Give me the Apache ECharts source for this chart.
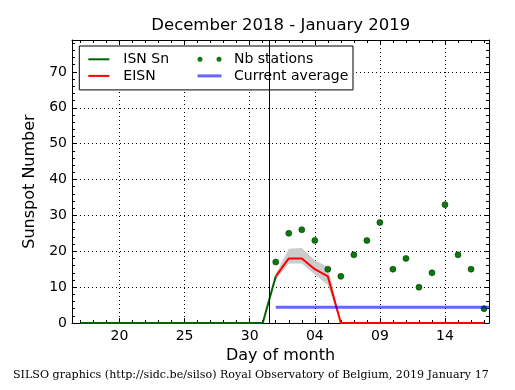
<!DOCTYPE html>
<html><head><meta charset="utf-8">
<script src="https://cdn.jsdelivr.net/npm/echarts@6/dist/echarts.min.js"></script>
<style>html,body{margin:0;padding:0;background:#fff}#c{width:515px;height:390px}</style>
</head><body><div id="c"></div>
<script>
// ---- data (day numbers: Dec d = d, Jan d = 31 + d) ----
const X_MIN = 16.35, X_MAX = 48.38, Y_MAX = 78.9;
const xTickValues = [20, 25, 30, 35, 40, 45];
const xTickLabels = ['20', '25', '30', '04', '09', '14'];
const yTickValues = [0, 10, 20, 30, 40, 50, 60, 70];
const isnDays   = [17, 18, 19, 20, 21, 22, 23, 24, 25, 26, 27, 28, 29, 30, 31, 32];
const isnValues = [0, 0, 0, 0, 0, 0, 0, 0, 0, 0, 0, 0, 0, 0, 0, 13];
const eisnDays   = [32, 33, 34, 35, 36, 37, 38, 39, 40, 41, 42, 43, 44, 45, 46, 47, 48];
const eisnValues = [13, 18, 18, 15, 13, 0, 0, 0, 0, 0, 0, 0, 0, 0, 0, 0, 0];
const bandDays = [32, 33, 34, 35, 36, 37];
const bandLow  = [12.0, 16.6, 16.6, 13.5, 10.6, 0];
const bandHigh = [13.6, 20.7, 20.9, 17.5, 15.7, 0];
const stationDays   = [32, 33, 34, 35, 36, 37, 38, 39, 40, 41, 42, 43, 44, 45, 46, 47, 48];
const stationValues = [17, 25, 26, 23, 15, 13, 19, 23, 28, 15, 18, 10, 14, 33, 19, 15, 4];
const averageDays   = [32, 48.38];
const averageValues = [4.4, 4.4];
const yearBoundary = 31.5;

const FONT = 'DejaVu Sans';
const minorX = []; for (let d = 17; d <= 48; d++) minorX.push(d);
const minorY = []; for (let v = 0; v <= 78; v += 2) minorY.push(v);

const pairs = (xs, ys) => xs.map((x, i) => [x, ys[i]]);

function xAxisDef(pos, ticks, len, major) {
  return {
    type: 'value', min: X_MIN, max: X_MAX, position: pos,
    axisLine: { show: major, onZero: false, lineStyle: { color: '#000', width: 1 } },
    axisTick: { show: true, inside: true, length: len, customValues: ticks, lineStyle: { color: '#000', width: 1 } },
    axisLabel: { show: false },
    splitLine: { show: false },
    axisPointer: { show: false }
  };
}
function yAxisDef(pos, ticks, len, major) {
  return {
    type: 'value', min: 0, max: Y_MAX, interval: 10, position: pos,
    axisLine: { show: major, onZero: false, lineStyle: { color: '#000', width: 1 } },
    axisTick: { show: true, inside: true, length: len, customValues: ticks, lineStyle: { color: '#000', width: 1 } },
    axisLabel: { show: false },
    splitLine: { show: false },
    axisPointer: { show: false }
  };
}

const xAxes = [
  xAxisDef('bottom', xTickValues, 5, true),
  xAxisDef('bottom', minorX, 3, false),
  xAxisDef('top', xTickValues, 5, true),
  xAxisDef('top', minorX, 3, false)
];
Object.assign(xAxes[0], {
  axisLabel: { show: true, customValues: xTickValues, margin: 6, fontFamily: FONT, fontSize: 14, color: '#000',
    formatter: v => { const i = xTickValues.indexOf(Math.round(v)); return i >= 0 ? xTickLabels[i] : ''; } },
  splitLine: { show: true, lineStyle: { color: '#000', width: 1, type: [1, 3] } },
  name: 'Day of month', nameLocation: 'middle', nameGap: 23,
  nameTextStyle: { fontFamily: FONT, fontSize: 16, color: '#000' }
});

const yAxes = [
  yAxisDef('left', yTickValues, 5, true),
  yAxisDef('left', minorY, 3, false),
  yAxisDef('right', yTickValues, 5, true),
  yAxisDef('right', minorY, 3, false)
];
Object.assign(yAxes[0], {
  axisLabel: { show: true, customValues: yTickValues, margin: 5, fontFamily: FONT, fontSize: 14, color: '#000',
    formatter: v => (yTickValues.indexOf(Math.round(v)) >= 0 && Math.abs(v - Math.round(v)) < 1e-6) ? String(Math.round(v)) : '' },
  splitLine: { show: true, lineStyle: { color: '#000', width: 1, type: [1, 3] } },
  name: 'Sunspot Number', nameLocation: 'middle', nameGap: 33,
  nameTextStyle: { fontFamily: FONT, fontSize: 16, color: '#000' }
});

const LINE_ICON = 'path://M0,0H21V2H0Z';
const LINE3_ICON = 'path://M0,0H24V3H0Z';
const DOTS_ICON = 'path://M0,2.5a2.5,2.5 0 1,0 5,0a2.5,2.5 0 1,0 -5,0ZM19,2.5a2.5,2.5 0 1,0 5,0a2.5,2.5 0 1,0 -5,0Z';

const option = {
  animation: false,
  backgroundColor: '#fff',
  title: [
    { text: 'December 2018 - January 2019', left: 280.8, textAlign: 'center', top: 17.5, padding: 0,
      textStyle: { fontFamily: FONT, fontSize: 16.5, fontWeight: 'normal', color: '#000' } },
    { text: 'SILSO graphics (http://sidc.be/silso) Royal Observatory of Belgium, 2019 January 17', left: 13, top: 369.5, padding: 0,
      textStyle: { fontFamily: 'DejaVu Serif', fontSize: 11.1, fontWeight: 'normal', color: '#000' } }
  ],
  grid: { left: 72, right: 26, top: 40, bottom: 67, containLabel: false },
  xAxis: xAxes,
  yAxis: yAxes,
  legend: [
    { orient: 'vertical', left: 79.3, top: 46, selectedMode: false,
      padding: [5.8, 184, 6.5, 9], borderColor: '#000', borderWidth: 1, backgroundColor: '#fff',
      itemWidth: 21, itemHeight: 14, itemGap: 1.6,
      textStyle: { fontFamily: FONT, fontSize: 14, color: '#000', lineHeight: 14, padding: [1, 0, 0, 9] },
      data: [
        { name: 'ISN Sn', icon: LINE_ICON, itemStyle: { color: '#006400', borderWidth: 0 } },
        { name: 'EISN', icon: LINE_ICON, itemStyle: { color: '#ff0000', borderWidth: 0 } }
      ] },
    { orient: 'vertical', left: 197.5, top: 51.8, selectedMode: false, padding: 0,
      itemWidth: 24, itemHeight: 14, itemGap: 1.6,
      textStyle: { fontFamily: FONT, fontSize: 14, color: '#000', lineHeight: 14, padding: [1, 0, 0, 7.5] },
      data: [
        { name: 'Nb stations', icon: DOTS_ICON, itemStyle: { color: '#0a7a0a', borderWidth: 0 } },
        { name: 'Current average', icon: LINE3_ICON, itemStyle: { color: '#6666ff', borderWidth: 0 } }
      ] }
  ],
  series: [
    { type: 'custom', name: 'band', silent: true, z: 1,
      data: bandDays.map((d, i) => [d, bandLow[i], bandHigh[i]]),
      encode: { x: 0, y: [1, 2] },
      renderItem: (params, api) => {
        if (params.dataIndex !== 0) return null;
        const top = bandDays.map((d, i) => api.coord([d, bandHigh[i]]));
        const bot = bandDays.map((d, i) => api.coord([d, bandLow[i]])).reverse();
        return { type: 'polygon', shape: { points: top.concat(bot) }, style: { fill: '#cccccc' } };
      } },
    { name: 'ISN Sn', type: 'line', data: pairs(isnDays, isnValues), symbol: 'none', z: 3,
      lineStyle: { color: '#006400', width: 2 }, itemStyle: { color: '#006400' } },
    { name: 'EISN', type: 'line', data: pairs(eisnDays, eisnValues), symbol: 'none', z: 4,
      lineStyle: { color: '#ff0000', width: 2 }, itemStyle: { color: '#ff0000' } },
    { name: 'Nb stations', type: 'scatter', data: pairs(stationDays, stationValues), symbolSize: 6, z: 5,
      itemStyle: { color: '#0a7a0a', borderColor: '#003a00', borderWidth: 0.6, opacity: 1 } },
    { name: 'Current average', type: 'line', data: pairs(averageDays, averageValues), symbol: 'none', z: 6,
      lineStyle: { color: '#0000ff', width: 3, opacity: 0.6 }, itemStyle: { color: '#6666ff' },
      markLine: { silent: true, symbol: 'none', label: { show: false }, animation: false,
        lineStyle: { color: '#000', width: 1, type: 'solid', opacity: 1 },
        data: [{ xAxis: yearBoundary }] } }
  ]
};

const chart = echarts.init(document.getElementById('c'), null, { renderer: 'canvas' });
chart.setOption(option);
</script>
</body></html>
